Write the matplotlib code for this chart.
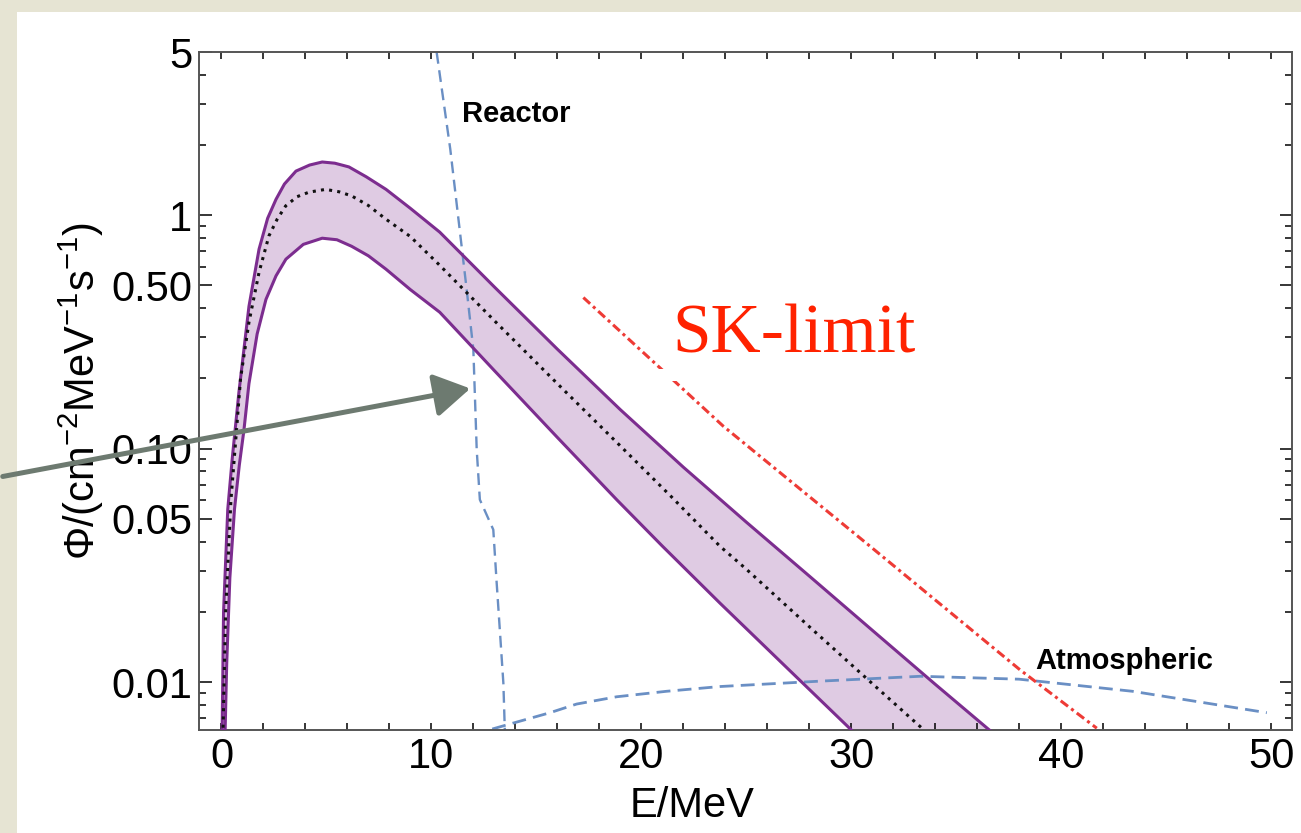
import numpy as np
import matplotlib
matplotlib.use("Agg")
import matplotlib.pyplot as plt
from matplotlib.patches import Rectangle, FancyArrowPatch
from matplotlib.ticker import FixedLocator, FixedFormatter

plt.rcParams['font.family'] = ['Liberation Sans', 'DejaVu Sans']
plt.rcParams['mathtext.fontset'] = 'custom'
plt.rcParams['mathtext.rm'] = 'Liberation Sans'
plt.rcParams['mathtext.it'] = 'Liberation Sans'

# DSNB flux band: upper / central / lower edge (E in MeV, flux per cm^2 MeV s)
e_up = [0.02, 0.1, 0.3, 0.51, 0.83, 1.31, 1.79, 2.2, 2.6, 3.0, 3.55, 4.2, 4.8, 5.4,
        6.07, 6.9, 7.84, 9.0, 10.4, 13.0, 16.0, 19.0, 22.0, 25.0, 28.0, 31.0,
        34.0, 37.0, 37.5]
f_up = [0.005, 0.02, 0.055, 0.09, 0.174, 0.407, 0.715, 0.97, 1.17, 1.36, 1.545, 1.64,
        1.69, 1.67, 1.61, 1.46, 1.29, 1.07, 0.846, 0.493, 0.267, 0.147, 0.0834,
        0.0485, 0.0285, 0.0167, 0.0098, 0.0058, 0.0053]

e_mid = [0.05, 0.2, 0.45, 0.68, 0.91, 1.31, 1.79, 2.26, 2.65, 3.06, 3.6, 4.17, 4.96,
         5.6, 6.2, 7.0, 7.84, 9.0, 10.4, 13.0, 16.0, 19.0, 21.4, 23.75, 25.0, 28.0,
         31.0, 33.1, 33.4]
f_mid = [0.005, 0.02, 0.06, 0.109, 0.2, 0.348, 0.569, 0.815, 0.96, 1.096, 1.2, 1.255,
         1.29, 1.26, 1.21, 1.1, 0.961, 0.81, 0.61, 0.3535, 0.19, 0.1028, 0.0627,
         0.0382, 0.0305, 0.0173, 0.00987, 0.00668, 0.00632]

e_lo = [0.15, 0.25, 0.4, 0.62, 0.85, 1.07, 1.31, 1.7, 2.12, 2.6, 3.07, 3.9, 4.8, 5.5,
        6.2, 7.0, 7.84, 9.0, 10.4, 13.0, 16.0, 18.85, 21.0, 23.75, 27.0, 30.0, 30.5]
f_lo = [0.005, 0.012, 0.028, 0.055, 0.085, 0.12, 0.19, 0.31, 0.436, 0.55, 0.648, 0.75,
        0.797, 0.785, 0.736, 0.67, 0.587, 0.48, 0.384, 0.216, 0.1118, 0.0602,
        0.0383, 0.0218, 0.01138, 0.00625, 0.00566]

# backgrounds
e_reac = [10.25, 10.9, 11.68, 12.0, 12.16, 12.31, 12.95, 13.11, 13.27, 13.43, 13.5]
f_reac = [5.0, 1.92, 0.482, 0.266, 0.099, 0.0605, 0.045, 0.0267, 0.0163, 0.0099, 0.0062]

e_atm = [12.9, 13.74, 15.65, 16.92, 18.83, 21.2, 23.75, 28.5, 33.3, 38.0, 43.4, 49.8]
f_atm = [0.0063, 0.00662, 0.0074, 0.00806, 0.00866, 0.00914, 0.00958, 0.0101, 0.0106,
         0.0103, 0.00914, 0.0074]

# Super-Kamiokande upper limit
e_sk = [17.24, 20.89, 23.9, 30.9, 38.04, 41.7]
f_sk = [0.444, 0.222, 0.125, 0.0382, 0.0113, 0.00635]

y_major = [0.01, 0.05, 0.1, 0.5, 1, 5]
y_major_labels = ['0.01', '0.05', '0.10', '0.50', '1', '5']
y_minor = [0.007, 0.008, 0.009, 0.02, 0.03, 0.04, 0.06, 0.07, 0.08, 0.09,
           0.2, 0.3, 0.4, 0.6, 0.7, 0.8, 0.9, 2, 3, 4]

W, H = 1301, 833
fig = plt.figure(figsize=(W / 100, H / 100), dpi=100, facecolor='#e6e4d3')
# white slide panel
fig.patches.append(Rectangle((17 / W, 0), 1, 1 - 12 / H, transform=fig.transFigure,
                             facecolor='white', edgecolor='none', zorder=-1))

ax = fig.add_axes([199 / W, 1 - 730 / H, (1292 - 199) / W, (730 - 52) / H])
ax.set_facecolor('white')
ax.set_yscale('log')
ax.set_xlim(-1.07, 51.0)
ax.set_ylim(0.00624, 5)

purple = '#7c2d8f'
band = np.concatenate([np.column_stack([e_up, f_up]),
                       np.column_stack([e_lo, f_lo])[::-1]])
ax.fill(band[:, 0], band[:, 1], color='#dfcbe3', lw=0, zorder=1)
ax.plot(e_up, f_up, color=purple, lw=2.2, zorder=3, solid_joinstyle='round')
ax.plot(e_lo, f_lo, color=purple, lw=2.2, zorder=3, solid_joinstyle='round')
ax.plot(e_mid, f_mid, color='#111111', lw=2.2, ls=(0, (1, 1.7)), zorder=4)

blue = '#6a8fc4'
ax.plot(e_reac, f_reac, color=blue, lw=1.7, ls=(0, (5, 2.8)), zorder=2)
ax.plot(e_atm, f_atm, color=blue, lw=2.0, ls=(0, (5, 2.6)), zorder=2)
ax.plot(e_sk, f_sk, color='#ee3b36', lw=2.2, ls=(0, (3, 1.3, 1, 1.3)), zorder=2)

ax.text(11.46, 2.497, 'Reactor', fontsize=21, fontweight='bold', va='baseline')
ax.text(38.75, 0.01138, 'Atmospheric', fontsize=21, fontweight='bold', va='baseline')

# axes styling
ax.xaxis.set_major_locator(FixedLocator([0, 10, 20, 30, 40, 50]))
ax.xaxis.set_minor_locator(FixedLocator(np.arange(0, 51, 2)))
ax.yaxis.set_major_locator(FixedLocator(y_major))
ax.yaxis.set_major_formatter(FixedFormatter(y_major_labels))
ax.yaxis.set_minor_locator(FixedLocator(y_minor))
ax.yaxis.set_minor_formatter(FixedFormatter([''] * len(y_minor)))
ax.tick_params(which='both', direction='in', top=True, right=True, width=1.1,
               color='black', labelsize=30, pad=5)
ax.tick_params(axis='x', which='both', length=5)
ax.tick_params(axis='y', which='major', length=9)
ax.tick_params(axis='y', which='minor', length=5)
for s in ax.spines.values():
    s.set_color('#555555')
    s.set_linewidth(1.4)

ax.set_xlabel('E/MeV', fontsize=30)
ax.xaxis.set_label_coords(0.451, -0.082)
ax.set_ylabel(r'$\Phi$/(cm$^{-2}$MeV$^{-1}$s$^{-1}$)', fontsize=30)
ax.yaxis.set_label_coords(-0.085, 0.5)

fig.text(794 / W, 1 - 353 / H, 'SK-limit', fontsize=50, color='#ff2200',
         family='Liberation Serif', ha='center', va='baseline')

# blanked strip across the limit line
fig.patches.append(Rectangle((640 / W, 1 - 381 / H), 190 / W, 12 / H,
                             transform=fig.transFigure, facecolor='white',
                             edgecolor='none', zorder=5))

arrow = FancyArrowPatch((0, 1 - 477 / H), (473 / W, 1 - 388 / H),
                        transform=fig.transFigure, arrowstyle='-|>,head_length=1.0,head_width=0.6',
                        mutation_scale=22, color='#6d7a70', lw=3.6, zorder=6)
fig.patches.append(arrow)

fig.savefig('out.png', dpi=100, facecolor=fig.get_facecolor())
